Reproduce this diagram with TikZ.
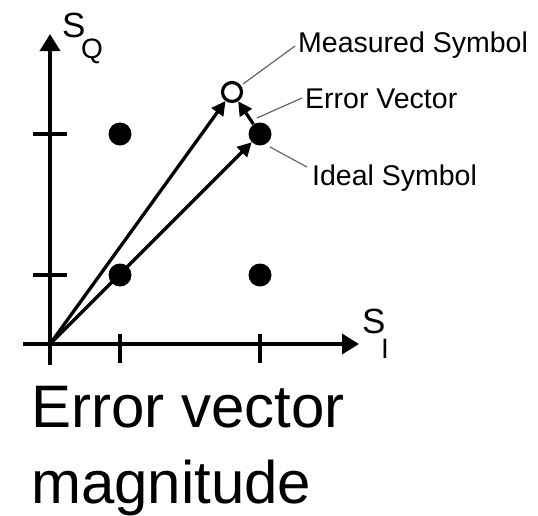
\documentclass[tikz,border=0pt]{standalone}
\usepackage{fontspec}
\setmainfont{Liberation Sans}
\usetikzlibrary{arrows.meta}
\begin{document}
\begin{tikzpicture}[x=1pt,y=-1pt,
  axis/.style={line width=3.6pt,-{Triangle[length=17pt,width=20pt]}},
  tickline/.style={line width=3.6pt},
  dotnode/.style={circle,fill=black,inner sep=0pt,minimum size=23pt},
  measnode/.style={circle,draw=black,line width=3.2pt,fill=white,inner sep=0pt,minimum size=19pt},
  vec/.style={line width=3.3pt,-{Triangle[length=14pt,width=14pt]}},
  callout/.style={draw=black!60,line width=1.2pt},
  lbl/.style={anchor=base west,inner sep=0pt,font=\fontsize{28.5}{30}\selectfont},
  big/.style={anchor=base west,inner sep=0pt,font=\fontsize{60}{70}\selectfont},
  axS/.style={anchor=base west,inner sep=0pt,text depth=0pt,font=\fontsize{35}{36}\selectfont},
  axsub/.style={anchor=base west,inner sep=0pt,text height=20pt,text depth=0pt,font=\fontsize{28}{30}\selectfont}
]
\useasboundingbox (0,0) rectangle (538,515);
% axes
\coordinate (O) at (50,344);
\coordinate (xl) at (23,344);
\coordinate (xr) at (359,344);
\coordinate (yb) at (50,365);
\coordinate (yt) at (50,34);
\draw[axis] (xl) -- (xr);
\draw[axis] (yb) -- (yt);
% ticks
\coordinate (tx1a) at (120,334); \coordinate (tx1b) at (120,363);
\coordinate (tx2a) at (260,334); \coordinate (tx2b) at (260,363);
\coordinate (ty1a) at (33,275); \coordinate (ty1b) at (67,275);
\coordinate (ty2a) at (33,134); \coordinate (ty2b) at (67,134);
\draw[tickline] (tx1a) -- (tx1b);
\draw[tickline] (tx2a) -- (tx2b);
\draw[tickline] (ty1a) -- (ty1b);
\draw[tickline] (ty2a) -- (ty2b);
% axis labels
\node[axS] (SQ) at (62,37) {S};
\node[axsub] (Qsub) at (81,58) {Q};
\node[axS] (SI) at (362,333) {S};
\node[axsub] (Isub) at (381,358) {I};
% constellation dots
\node[dotnode] (d11) at (120,275) {};
\node[dotnode] (d21) at (260,275) {};
\node[dotnode] (d12) at (120,134) {};
\node[dotnode] (ideal) at (260,134) {};
% measured symbol
\node[measnode] (meas) at (232,92) {};
% vectors
\draw[vec] (O) -- (meas);
\draw[vec] (O) -- (ideal);
\draw[vec] (ideal) -- (meas);
% labels
\node[lbl] (lm) at (298,52) {Measured Symbol};
\node[lbl] (le) at (305,108) {Error Vector};
\node[lbl] (li) at (312,185) {Ideal Symbol};
\coordinate (cm1) at (243,84); \coordinate (cm2) at (295,46);
\coordinate (ce1) at (257,118); \coordinate (ce2) at (302,98);
\coordinate (ci1) at (270,147); \coordinate (ci2) at (307,167);
\draw[callout] (cm1) -- (cm2);
\draw[callout] (ce1) -- (ce2);
\draw[callout] (ci1) -- (ci2);
% title
\node[big] (t1) at (31,427) {Error vector};
\node[big] (t2) at (31,503) {magnitude};
\end{tikzpicture}
\end{document}
